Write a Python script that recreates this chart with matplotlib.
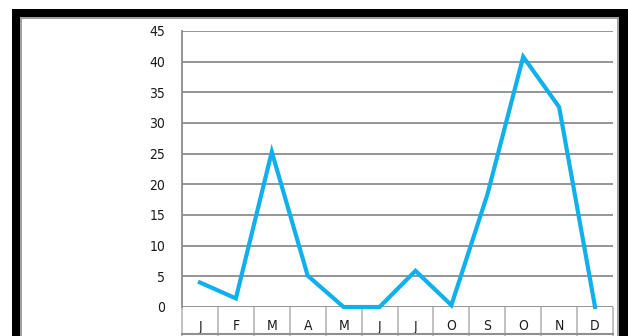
import matplotlib
matplotlib.use("Agg")
import matplotlib.pyplot as plt
from matplotlib.patches import Rectangle
from matplotlib.lines import Line2D
from matplotlib import font_manager

months = ["J", "F", "M", "A", "M", "J", "J", "O", "S", "O", "N", "D"]
values = [4.0, 1.4, 25.3, 5.1, 0.0, 0.0, 5.9, 0.3, 18.3, 40.8, 32.6, 0.0]
y_ticks = [0, 5, 10, 15, 20, 25, 30, 35, 40, 45]

names = {f.name for f in font_manager.fontManager.ttflist}
font = "Liberation Sans Narrow" if "Liberation Sans Narrow" in names else "DejaVu Sans"
plt.rcParams["font.family"] = [font, "DejaVu Sans"]
plt.rcParams["font.stretch"] = "condensed"

W, H = 628, 336
fig = plt.figure(figsize=(W / 100, H / 100), dpi=100)


def fx(px):
    return px / W


def fy(py):
    return 1 - py / H


# outer black frame with thin grey inner edge
frame_black = dict(facecolor="black", edgecolor="none", transform=fig.transFigure, zorder=10)
fig.patches.append(Rectangle((fx(12), fy(336)), fx(8), (336 - 9) / H, **frame_black))
fig.patches.append(Rectangle((fx(12), fy(17)), fx(628 - 12), 8 / H, **frame_black))
fig.patches.append(Rectangle((fx(619), fy(336)), fx(9), (336 - 9) / H, **frame_black))
frame_grey = dict(facecolor="#a0a0a0", edgecolor="none", transform=fig.transFigure, zorder=9)
fig.patches.append(Rectangle((fx(20), fy(336)), fx(2), 319 / H, **frame_grey))
fig.patches.append(Rectangle((fx(20), fy(19)), fx(599), 2 / H, **frame_grey))
fig.patches.append(Rectangle((fx(617), fy(336)), fx(2), 319 / H, **frame_grey))

left, right, top, bottom = 182, 613, 31, 307
ax = fig.add_axes([fx(left), fy(bottom), fx(right - left), (bottom - top) / H])

x = list(range(len(months)))
ax.plot(x, values, color="#10b0ec", lw=3.0, solid_joinstyle="miter", zorder=5, clip_on=False)

ax.set_xlim(-0.5, len(months) - 0.5)
ax.set_ylim(0, 45)
ax.set_yticks(y_ticks)
ax.set_yticklabels([str(v) for v in y_ticks])
ax.set_xticks(x)
ax.set_xticklabels(months)
ax.set_xticks([i - 0.5 for i in range(len(months) + 1)], minor=True)

grid_c = "#8c8c8c"
for v in y_ticks:
    ax.axhline(v, color=grid_c, lw=1.3, zorder=1)

for s in ["top", "right", "bottom"]:
    ax.spines[s].set_visible(False)
ax.spines["left"].set_color(grid_c)
ax.spines["left"].set_linewidth(1.3)

ax.tick_params(axis="y", length=0, pad=12, labelsize=10, labelcolor="#1a1a1a")
ax.tick_params(axis="x", which="major", length=0, pad=9, labelsize=10, labelcolor="#1a1a1a")
ax.tick_params(axis="x", which="minor", length=21, width=1.1, color="#b0b0b0")

# bottom edge of the category boxes
fig.lines.append(Line2D([fx(left), fx(right)], [fy(334), fy(334)], color="#909090", lw=1.5,
                        transform=fig.transFigure))

fig.savefig("out.png", dpi=100)
